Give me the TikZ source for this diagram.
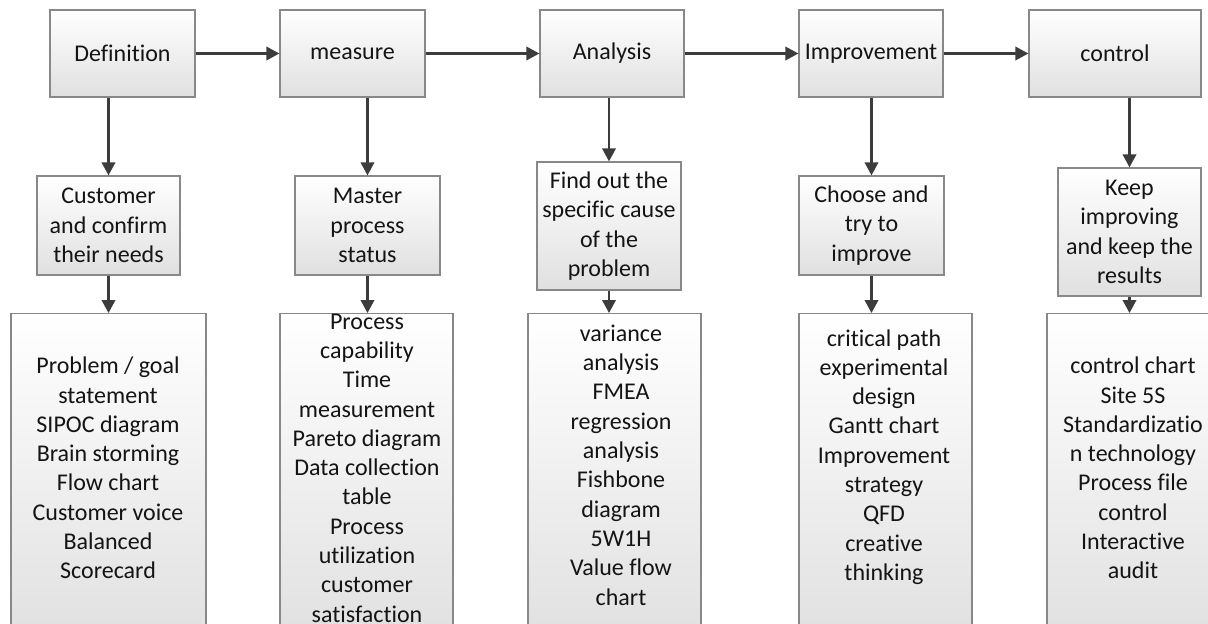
\documentclass[tikz,border=0pt]{standalone}
\usepackage{fontspec}
\setmainfont{Carlito}[Ligatures=NoCommon]
\usetikzlibrary{arrows.meta,shadows}

\definecolor{boxline}{HTML}{888888}
\definecolor{boxbottom}{HTML}{E0E0E0}
\definecolor{arrowcol}{HTML}{3C3C3C}
\definecolor{txt}{HTML}{141414}

\tikzset{
  stagebox/.style={draw=boxline, line width=1.3pt, rectangle,
    top color=white, bottom color=boxbottom,
    drop shadow={shadow xshift=1.2pt, shadow yshift=-1.2pt, opacity=0.18},
    align=center, text=txt, inner sep=2pt,
    font=\fontsize{24}{29.3}\selectfont},
  listbox/.style={stagebox, anchor=north, minimum height=330pt},
  listtext/.style={align=center, text=txt, inner sep=0pt,
    font=\fontsize{24}{29.3}\selectfont},
  flow/.style={draw=arrowcol, line width=2.1pt,
    -{Triangle[length=13pt,width=13.5pt]}},
}

\begin{document}
\begin{tikzpicture}[x=1pt,y=-1pt]
\clip (0,0) rectangle (1208,624);
\fill[white] (0,0) rectangle (1208,624);

% stage boxes
\node[stagebox, minimum width=145pt, minimum height=87pt] (def)  at (122.5,53.5) {Definition};
\node[stagebox, minimum width=145pt, minimum height=87pt] (meas) at (352.5,53.5) {measure};
\node[stagebox, minimum width=144pt, minimum height=87pt] (ana)  at (612,53.5)   {Analysis};
\node[stagebox, minimum width=144pt, minimum height=87pt] (imp)  at (871,53.5)   {Improvement};
\node[stagebox, minimum width=172pt, minimum height=87pt] (ctl)  at (1115,53.5)  {control};

% goal boxes
\node[stagebox, minimum width=143pt, minimum height=99pt]  (cust)   at (108.5,225.5) {Customer\\and confirm\\their needs};
\node[stagebox, minimum width=145pt, minimum height=99pt]  (mast)   at (367.5,225.5) {Master\\process\\status};
\node[stagebox, minimum width=144pt, minimum height=128pt] (find)   at (609,226)     {Find out the\\specific cause\\of the\\problem};
\node[stagebox, minimum width=145pt, minimum height=99pt]  (choose) at (871.5,225.5) {Choose and\\try to\\improve};
\node[stagebox, minimum width=143pt, minimum height=128pt] (keep)   at (1129.5,232)  {Keep\\improving\\and keep the\\results};

% tool lists
\node[listbox, minimum width=195pt] (l1) at (108.5,313) {};
\node[listbox, minimum width=173pt] (l2) at (366.5,313) {};
\node[listbox, minimum width=173pt] (l3) at (614.5,313) {};
\node[listbox, minimum width=173pt] (l4) at (885.5,313) {};
\node[listbox, minimum width=173pt] (l5) at (1133.5,313) {};

\node[listtext] (t1) at (108,468) {Problem / goal\\statement\\SIPOC diagram\\Brain storming\\Flow chart\\Customer voice\\Balanced\\Scorecard};
\node[listtext] (t2) at (367,468) {Process\\capability\\Time\\measurement\\Pareto diagram\\Data collection\\table\\Process\\utilization\\customer\\satisfaction};
\node[listtext] (t3) at (621,465) {variance\\analysis\\FMEA\\regression\\analysis\\Fishbone\\diagram\\5W1H\\Value flow\\chart};
\node[listtext] (t4) at (884,457) {critical path\\experimental\\design\\Gantt chart\\Improvement\\strategy\\QFD\\creative\\thinking};
\node[listtext] (t5) at (1133,468) {control chart\\Site 5S\\Standardizatio\\n technology\\Process file\\control\\Interactive\\audit};

% stage sequence
\draw[flow] (def.east) -- (meas.west);
\draw[flow] (meas.east) -- (ana.west);
\draw[flow] (ana.east) -- (imp.west);
\draw[flow] (imp.east) -- (ctl.west);

% stage to goal
\draw[flow] (def.south -| cust.north) -- (cust.north);
\draw[flow] (meas.south -| mast.north) -- (mast.north);
\draw[flow] (ana.south -| find.north) -- (find.north);
\draw[flow] (imp.south -| choose.north) -- (choose.north);
\draw[flow] (ctl.south -| keep.north) -- (keep.north);

% goal to tools
\draw[flow] (cust.south) -- (cust.south |- l1.north);
\draw[flow] (mast.south) -- (mast.south |- l2.north);
\draw[flow] (find.south) -- (find.south |- l3.north);
\draw[flow] (choose.south) -- (choose.south |- l4.north);
\draw[flow] (keep.south) -- (keep.south |- l5.north);
\end{tikzpicture}
\end{document}
